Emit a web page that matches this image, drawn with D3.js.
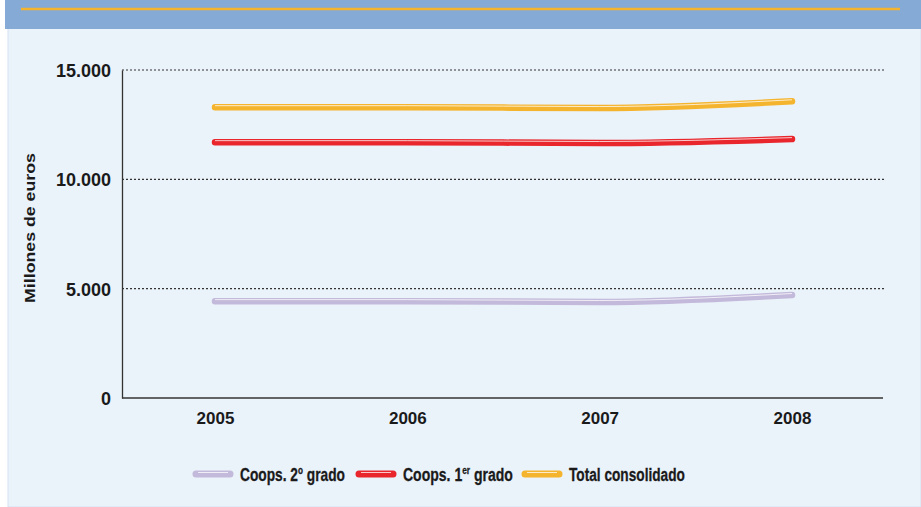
<!DOCTYPE html>
<meta charset="utf-8">
<script src="https://d3js.org/d3.v7.js"></script>
<style>
  body { margin: 0; background: #fff; }
  text { font-family: "Liberation Sans", Arial, sans-serif; font-weight: bold; fill: #1a1a1a; }
</style>
<div id="my_dataviz"></div>
<script>
    // data (millones de euros)
    var years = ["2005", "2006", "2007", "2008"];
    var segundoGrado = [4430, 4430, 4390, 4710];
    var primerGrado = [11700, 11700, 11660, 11840];
    var totalConsolidado = [13300, 13300, 13260, 13570];
    var yTicks = [0, 5000, 10000, 15000];

    var series = [
        {name: "Coops. 2º grado", values: segundoGrado, color: "#c3b9da"},
        {name: "Coops. 1er grado", values: primerGrado, color: "#e8262c"},
        {name: "Total consolidado", values: totalConsolidado, color: "#f5b42d"}
    ];

    var W = 921, H = 507;
    var margin = {top: 70, right: 38, bottom: 109, left: 122},
        width = W - margin.left - margin.right,
        height = H - margin.top - margin.bottom;

    var root = d3.select("#my_dataviz")
        .append("svg")
        .attr("width", W)
        .attr("height", H);

    // squeeze a text element horizontally to a target width (condensed look)
    function fitWidth(sel, target, anchorX) {
        sel.each(function () {
            var w = this.getComputedTextLength();
            if (w > 0) {
                var k = target / w;
                d3.select(this).attr("transform", "translate(" + anchorX * (1 - k) + ",0) scale(" + k + ",1)");
            }
        });
    }

    // panel + header band
    root.append("rect").attr("x", 8).attr("y", 0).attr("width", W - 8).attr("height", H)
        .attr("fill", "#eaf2fa").attr("stroke", "#d3e2f2");
    root.append("rect").attr("x", 5).attr("y", 0).attr("width", W - 5).attr("height", 29)
        .attr("fill", "#85aad5");
    root.append("line").attr("x1", 21).attr("x2", 900).attr("y1", 9).attr("y2", 9)
        .attr("stroke", "#f5b42d").attr("stroke-width", 2.5);

    var svg = root.append("g")
        .attr("transform", "translate(" + margin.left + "," + margin.top + ")");

    var x = d3.scalePoint()
        .domain(years)
        .range([93, 670]);

    var y = d3.scaleLinear()
        .domain([0, 15000])
        .range([height, 0]);

    // dotted gridlines
    svg.selectAll(".grid")
        .data(yTicks.filter(d => d > 0))
        .enter()
        .append("line")
        .attr("x1", 0)
        .attr("x2", width + 3)
        .attr("y1", d => y(d))
        .attr("y2", d => y(d))
        .attr("stroke", "#333")
        .attr("stroke-width", 1.2)
        .attr("stroke-dasharray", "2,2");

    // axes
    var yAxis = svg.append("g")
        .call(d3.axisLeft(y).tickValues(yTicks).tickSize(0).tickPadding(11)
            .tickFormat(d => d3.format(",")(d).replace(/,/g, ".")));
    yAxis.select(".domain").attr("stroke", "#333").attr("stroke-width", 1.3);
    yAxis.selectAll("text").style("font-size", "18px").attr("dy", "0.36em");

    var xAxis = svg.append("g")
        .attr("transform", "translate(0," + height + ")")
        .call(d3.axisBottom(x).tickSize(0).tickPadding(14));
    xAxis.select(".domain").attr("d", "M0,0H" + width).attr("stroke", "#333").attr("stroke-width", 1.3);
    xAxis.selectAll("text").style("font-size", "17px");

    // axis title
    var yTitle = root.append("g").attr("transform", "translate(35,228) rotate(-90)");
    yTitle.append("text")
        .attr("text-anchor", "middle")
        .style("font-size", "15px")
        .text("Millones de euros")
        .call(fitWidth, 150, 0);

    // lines
    var line = d3.line()
        .x((d, i) => x(years[i]))
        .y(d => y(d))
        .curve(d3.curveMonotoneX);

    series.forEach(function (s) {
        svg.append("path")
            .datum(s.values)
            .attr("fill", "none")
            .attr("stroke", s.color)
            .attr("stroke-width", 6.5)
            .attr("stroke-linecap", "round")
            .attr("d", line);
        svg.append("path")
            .datum(s.values)
            .attr("fill", "none")
            .attr("stroke", "#fff")
            .attr("stroke-opacity", 0.75)
            .attr("stroke-width", 1)
            .attr("transform", "translate(0,-1.5)")
            .attr("d", line);
    });

    // legend
    var legendX = [192, 355, 521];
    var legendW = [105, 110, 116];
    var legend = root.append("g").attr("transform", "translate(0,474)");
    series.forEach(function (s, i) {
        var g = legend.append("g").attr("transform", "translate(" + legendX[i] + ",0)");
        g.append("line").attr("x1", 4).attr("x2", 38).attr("y1", 0).attr("y2", 0)
            .attr("stroke", s.color).attr("stroke-width", 7).attr("stroke-linecap", "round");
        g.append("line").attr("x1", 6).attr("x2", 36).attr("y1", -1.5).attr("y2", -1.5)
            .attr("stroke", "#fff").attr("stroke-opacity", 0.75).attr("stroke-width", 1);
        var t = g.append("text").attr("x", 48).attr("y", 6.5)
            .style("font-size", "18.5px")
            .style("stroke", "#1a1a1a").style("stroke-width", 0.3);
        if (i === 0) {
            t.append("tspan").text("Coops. 2");
            t.append("tspan").attr("dy", -7).style("font-size", "11px").text("o");
            t.append("tspan").attr("dy", 7).text(" grado");
        } else if (i === 1) {
            t.append("tspan").text("Coops. 1");
            t.append("tspan").attr("dy", -7).style("font-size", "11px").text("er");
            t.append("tspan").attr("dy", 7).text(" grado");
        } else {
            t.text(s.name);
        }
        t.call(fitWidth, legendW[i], 48);
    });
</script>
